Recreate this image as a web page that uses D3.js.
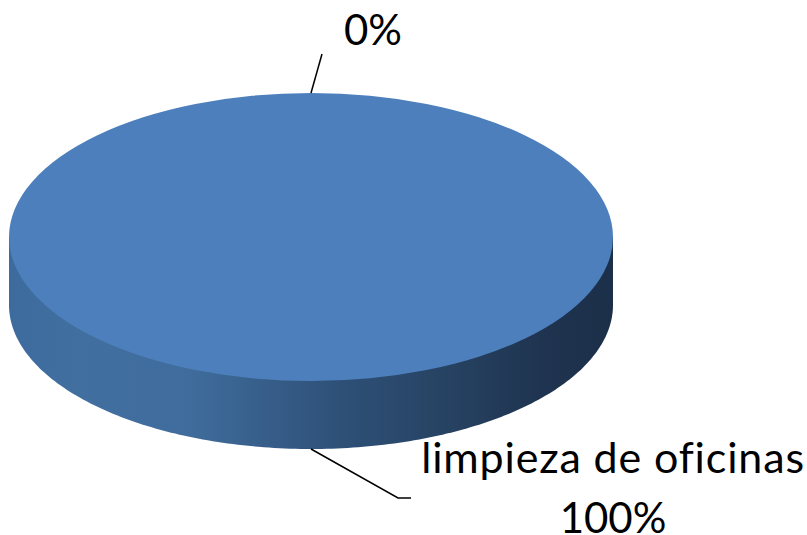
<!DOCTYPE html>
<html>
<head>
<meta charset="utf-8">
<script src="https://cdn.jsdelivr.net/npm/d3@7"></script>
<style>
body { margin: 0; background: #fff; }
text { font-family: Lato, sans-serif; fill: #000; font-size: 42px; }
</style>
</head>
<body>
<div id="chart"></div>
<script>
// values
var categories = ["limpieza de oficinas", "otros"];
var percents = [100, 0];
var sideStops = [0, 0.12, 0.3, 0.55, 0.72, 0.88, 1];
var sideColors = ["#3d6b9e", "#416f9f", "#3f6c9c", "#2e5077", "#274363", "#1f3450", "#1c2f49"];

var width = 807, height = 535;
var cx = 311, cy = 237, rx = 302, ry = 144, depth = 68;

var svg = d3.select("#chart").append("svg")
	.attr("width", width)
	.attr("height", height)
	.style("display", "block");

var grad = svg.append("defs").append("linearGradient")
	.attr("id", "side")
	.attr("x1", "0").attr("x2", "1").attr("y1", "0").attr("y2", "0");
grad.selectAll("stop")
	.data(sideStops)
	.enter().append("stop")
	.attr("offset", function(d) { return d; })
	.attr("stop-color", function(d, i) { return sideColors[i]; });

// flatten a unit pie into an ellipse
var pie = d3.pie().sort(null).value(function(d) { return d; });
var slices = pie(percents);

function ellipsePoint(angle, dy) {
	return [cx + rx * Math.sin(angle), cy + dy - ry * Math.cos(angle)];
}

// side wall: lower half of the ellipse pushed down by depth, closed behind the top face
var wall = d3.range(90, 270.5, 1).map(function(a) { return ellipsePoint(a * Math.PI / 180, depth); });
wall.push([cx - rx, cy]);
wall.push([cx + rx, cy]);
svg.append("path")
	.attr("d", d3.line()(wall) + "Z")
	.attr("fill", "url(#side)");

// top face
var arc = d3.arc().innerRadius(0).outerRadius(1);
svg.selectAll("path.top")
	.data(slices.filter(function(d) { return d.value > 0; }))
	.enter().append("path")
	.attr("class", "top")
	.attr("transform", "translate(" + cx + "," + cy + ") scale(" + rx + "," + ry + ")")
	.attr("d", arc)
	.attr("fill", "#4c7fbb");

// leader lines
var line = d3.line();
svg.append("path")
	.attr("d", line([[311, 93], [322, 54]]))
	.attr("fill", "none").attr("stroke", "#000").attr("stroke-width", 1.5);
svg.append("path")
	.attr("d", line([[311, 449], [398, 498], [411, 498]]))
	.attr("fill", "none").attr("stroke", "#000").attr("stroke-width", 1.5);

// labels
svg.append("text").attr("x", 373).attr("y", 45).attr("text-anchor", "middle").text(percents[1] + "%");
svg.append("text").attr("x", 613).attr("y", 473).attr("text-anchor", "middle")
	.style("font-size", "43px").style("letter-spacing", "0.85px").text(categories[0]);
svg.append("text").attr("x", 613).attr("y", 533).attr("text-anchor", "middle").text(percents[0] + "%");
</script>
</body>
</html>
